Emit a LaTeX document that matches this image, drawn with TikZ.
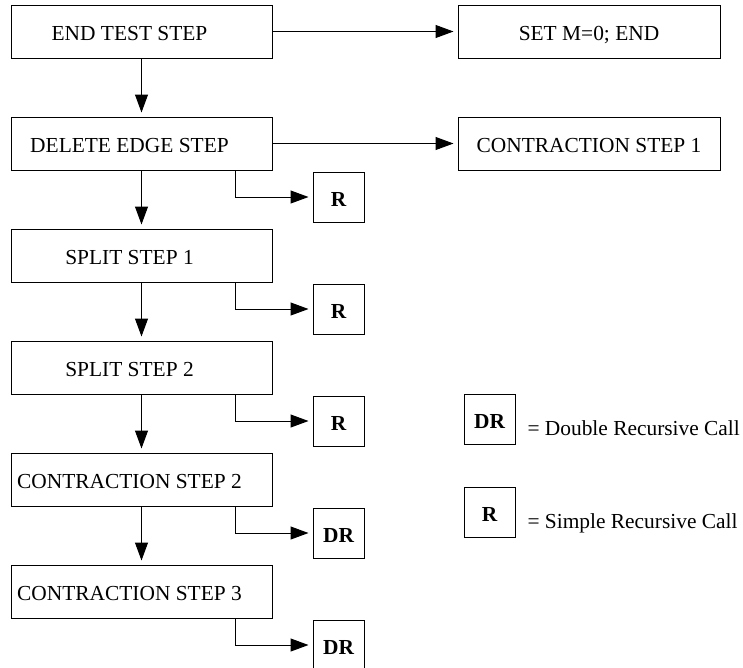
\documentclass[tikz,border=0pt]{standalone}
\usepackage{fontspec}
\setmainfont{Liberation Serif}
\usetikzlibrary{arrows.meta}

\begin{document}
\begin{tikzpicture}[x=1pt, y=-1pt, line width=1pt,
  font=\fontsize{21.4}{25}\selectfont,
  stepbox/.style={draw, minimum width=261pt, minimum height=53pt, inner sep=0pt,
    text height=18pt, text depth=0pt, execute at end node=\hspace{24pt}},
  endbox/.style={draw, minimum width=262pt, minimum height=53pt, inner sep=0pt,
    text height=18pt, text depth=0pt},
  callbox/.style={draw, minimum width=51pt, minimum height=50pt, inner sep=0pt,
    text height=18pt, text depth=0pt, font=\fontsize{21.4}{25}\selectfont\bfseries},
  arr/.style={-{Triangle[length=18pt,width=13pt]}, shorten >=4pt}]

\useasboundingbox (0,0) rectangle (743,667);

%askeleet
\node[stepbox] (s1) at (141.5,31.5) {END TEST STEP};
\node[stepbox] (s2) at (141.5,143.5) {DELETE EDGE STEP};
\node[stepbox] (s3) at (141.5,255.5) {SPLIT STEP 1};
\node[stepbox] (s4) at (141.5,367.5) {SPLIT STEP 2};
\node[stepbox] (s5) at (141.5,479.5) {CONTRACTION STEP 2};
\node[stepbox] (s6) at (141.5,591.5) {CONTRACTION STEP 3};

\node[endbox] (e1) at (589,31.5) {SET M=0; END};
\node[endbox] (e2) at (589,143.5) {CONTRACTION STEP 1};

\draw[arr] (s1) -- (e1);
\draw[arr] (s2) -- (e2);
\foreach \a/\b in {s1/s2, s2/s3, s3/s4, s4/s5, s5/s6}
  \draw[arr] (\a) -- (\b);

%rekursiot
\foreach \s/\t in {2/R, 3/R, 4/R, 5/DR, 6/DR}{
  \node[callbox, xshift=197pt, yshift=-53.5pt] (r\s) at (s\s) {\t};
  \draw[arr] (s\s.south east) ++(-37,0) |- (r\s.west);
}

%selitteet
\node[callbox] (kdr) at (489.5,419) {DR};
\node[callbox] (kr) at (489.5,512.5) {R};
\node[anchor=west, inner sep=0pt] (ldr) at (527,428) {= Double Recursive Call};
\node[anchor=west, inner sep=0pt] (lr) at (527,523) {= Simple Recursive Call};

\end{tikzpicture}
\end{document}
